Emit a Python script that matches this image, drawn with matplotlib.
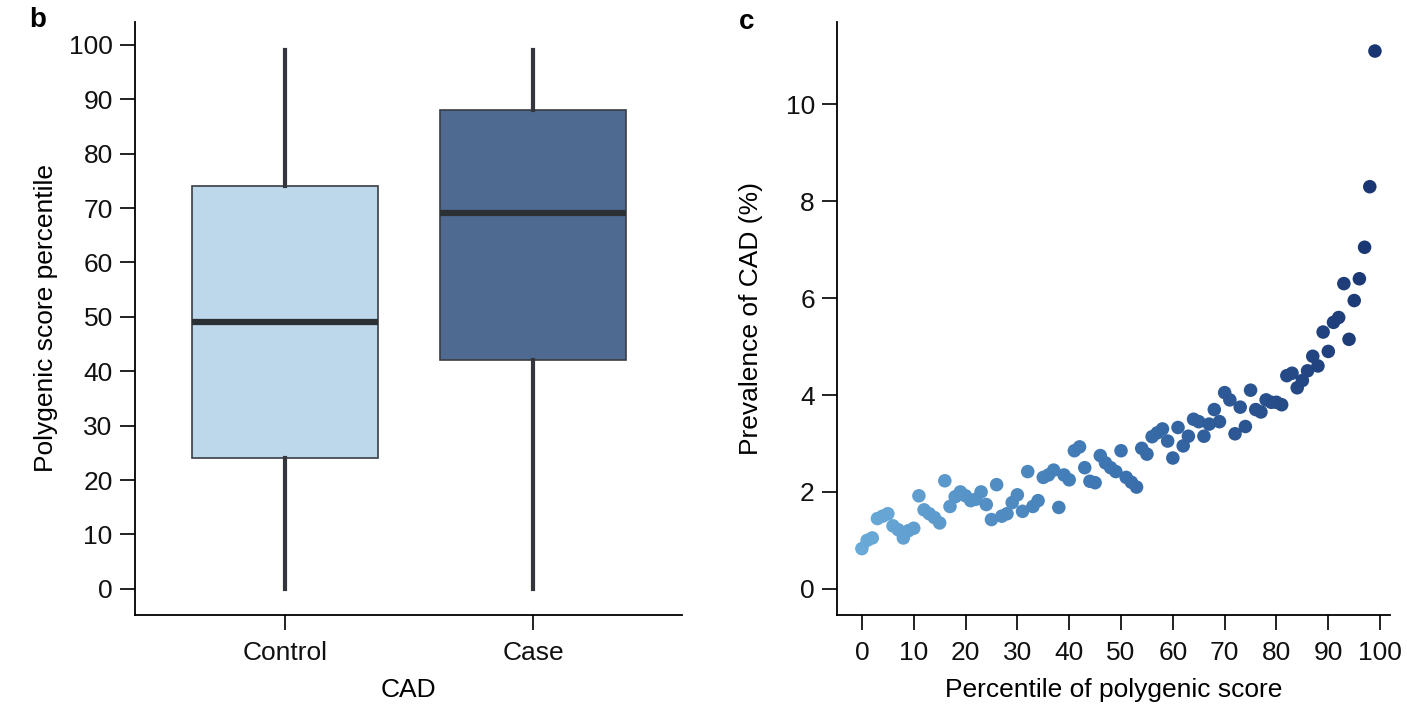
import matplotlib
matplotlib.use("Agg")
import matplotlib.pyplot as plt
from matplotlib.colors import LinearSegmentedColormap

# Panel b: box plot summary (percentiles)
groups = ["Control", "Case"]
q1 = [24, 42]
median = [49, 69]
q3 = [74, 88]
whisker_low = [0, 0]
whisker_high = [99, 99]
box_colors = ["#bcd8ea", "#4f6a90"]

# Panel c: prevalence by percentile of polygenic score
percentile = list(range(100))
prevalence = [
    0.83, 1.00, 1.05, 1.45, 1.50, 1.55, 1.30, 1.22, 1.05, 1.20,
    1.25, 1.92, 1.63, 1.55, 1.47, 1.36, 2.23, 1.70, 1.90, 2.00,
    1.92, 1.82, 1.85, 2.00, 1.74, 1.43, 2.15, 1.50, 1.55, 1.78,
    1.94, 1.60, 2.42, 1.70, 1.82, 2.30, 2.35, 2.45, 1.68, 2.35,
    2.25, 2.85, 2.93, 2.50, 2.22, 2.19, 2.75, 2.60, 2.50, 2.42,
    2.85, 2.30, 2.20, 2.10, 2.90, 2.78, 3.14, 3.22, 3.30, 3.05,
    2.70, 3.33, 2.95, 3.15, 3.50, 3.45, 3.15, 3.40, 3.70, 3.45,
    4.05, 3.90, 3.20, 3.75, 3.35, 4.10, 3.70, 3.65, 3.90, 3.85,
    3.85, 3.80, 4.40, 4.45, 4.15, 4.30, 4.50, 4.80, 4.60, 5.30,
    4.90, 5.50, 5.60, 6.30, 5.15, 5.95, 6.40, 7.05, 8.30, 11.10,
]

plt.rcParams["font.family"] = ["Liberation Sans", "DejaVu Sans"]
plt.rcParams["font.size"] = 19

fig = plt.figure(figsize=(14.07, 7.09), dpi=100)
ax1 = fig.add_axes([0.0959, 0.1326, 0.3888, 0.8364])
ax2 = fig.add_axes([0.5949, 0.1326, 0.3930, 0.8364])

for ax in (ax1, ax2):
    ax.spines["top"].set_visible(False)
    ax.spines["right"].set_visible(False)
    ax.spines["left"].set_linewidth(1.3)
    ax.spines["bottom"].set_linewidth(1.3)
    ax.tick_params(direction="out", length=11, width=1.3, labelsize=19, pad=5,
                   colors="#111111")
    ax.tick_params(axis="x", pad=8)

# Box plot drawn from the summary stats
stats = []
for i, g in enumerate(groups):
    stats.append({"label": g, "q1": q1[i], "med": median[i], "q3": q3[i],
                  "whislo": whisker_low[i], "whishi": whisker_high[i], "fliers": []})
bp = ax1.bxp(stats, positions=[0, 1], widths=0.75, patch_artist=True,
             showcaps=False, showfliers=False,
             boxprops=dict(edgecolor="#3a3d42", linewidth=1.2),
             whiskerprops=dict(color="#33363a", linewidth=3),
             medianprops=dict(color="#2b3035", linewidth=4.5))
for patch, c in zip(bp["boxes"], box_colors):
    patch.set_facecolor(c)
ax1.set_xlim(-0.605, 1.6)
ax1.set_ylim(-4.8, 104.2)
ax1.set_yticks(range(0, 101, 10))
ax1.set_xticks([0, 1])
ax1.set_xticklabels(groups)
ax1.set_xlabel("CAD", fontsize=19, labelpad=9)
ax1.set_ylabel("Polygenic score percentile", fontsize=19, labelpad=8)

# Scatter with a light-to-dark blue gradient
cmap = LinearSegmentedColormap.from_list("blues", ["#6aaad8", "#3b73b0", "#1a3672"])
ax2.scatter(percentile, prevalence, c=percentile, cmap=cmap, s=95,
            edgecolors="none", zorder=3)
ax2.set_xlim(-4.8, 101.9)
ax2.set_ylim(-0.54, 11.7)
ax2.set_xticks(range(0, 101, 10))
ax2.set_yticks(range(0, 11, 2))
ax2.set_xlabel("Percentile of polygenic score", fontsize=19, labelpad=9)
ax2.set_ylabel("Prevalence of CAD (%)", fontsize=19, labelpad=16)

fig.text(0.021, 0.972, "b", fontsize=20, fontweight="bold", va="center")
fig.text(0.525, 0.969, "c", fontsize=20, fontweight="bold", va="center")

fig.savefig("out.png", dpi=100)
